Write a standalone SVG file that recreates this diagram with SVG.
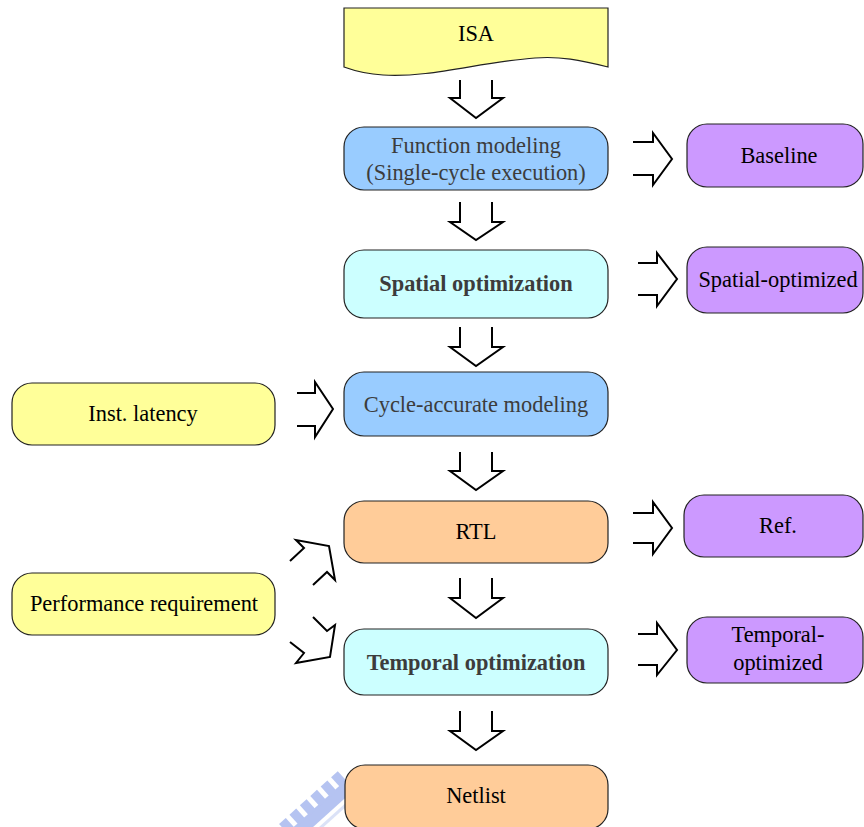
<svg xmlns="http://www.w3.org/2000/svg" width="864" height="827" viewBox="0 0 864 827">
  <style>
    .box { stroke: #222; stroke-width: 1.2; }
    .yellow { fill: #ffff99; }
    .blue { fill: #99ccff; }
    .cyan { fill: #ccffff; }
    .orange { fill: #ffcc99; }
    .purple { fill: #cc99ff; }
    .t { font-family: "Liberation Serif", "Times New Roman", serif; font-size: 22.4px; text-anchor: middle; fill: #000; }
    .grey { fill: #3c3c3c; }
    .bold { font-weight: bold; }
    .arrow { fill: #fff; stroke: #000; stroke-width: 2; stroke-linejoin: miter; }
    .ink { fill: #a3b5ee; }
  </style>

  <!-- faint logo stamp behind the last box -->
  <g id="stamp" opacity="0.8">
    <g transform="translate(314,806) rotate(-42)">
      <rect class="ink" x="-42" y="2" width="94" height="13"/>
      <rect class="ink" x="-38" y="-10" width="9" height="14"/>
      <rect class="ink" x="-24" y="-10" width="9" height="14"/>
      <rect class="ink" x="-10" y="-10" width="9" height="14"/>
      <rect class="ink" x="4" y="-10" width="9" height="14"/>
      <rect class="ink" x="18" y="-10" width="9" height="14"/>
      <rect class="ink" x="32" y="-10" width="9" height="14"/>
      <rect x="-42" y="19" width="94" height="3" fill="#d3dcf6"/>
    </g>
  </g>

  <g id="isa">
    <path class="box yellow" d="M344,8 H608 V67 C580,60 560,56 535,58 C480,62 430,78 383,75 C365,74 355,71 344,67 Z"/>
    <text class="t" x="476" y="41">ISA</text>
  </g>

  <g id="function-modeling">
    <rect class="box blue" x="344" y="127" width="264" height="63" rx="20"/>
    <text class="t grey" x="476" y="153">Function modeling</text>
    <text class="t grey" x="476" y="180">(Single-cycle execution)</text>
  </g>

  <g id="baseline">
    <rect class="box purple" x="687" y="124" width="176" height="63" rx="20"/>
    <text class="t" x="779" y="163">Baseline</text>
  </g>

  <g id="spatial-optimization">
    <rect class="box cyan" x="344" y="250" width="264" height="68" rx="20"/>
    <text class="t grey bold" x="476" y="291">Spatial optimization</text>
  </g>

  <g id="spatial-optimized">
    <rect class="box purple" x="687" y="247" width="176" height="66" rx="20"/>
    <text class="t" x="778" y="287">Spatial-optimized</text>
  </g>

  <g id="inst-latency">
    <rect class="box yellow" x="12" y="383" width="263" height="62" rx="20"/>
    <text class="t" x="143" y="421">Inst. latency</text>
  </g>

  <g id="cycle-accurate">
    <rect class="box blue" x="344" y="372" width="264" height="64" rx="20"/>
    <text class="t grey" x="476" y="412">Cycle-accurate modeling</text>
  </g>

  <g id="rtl">
    <rect class="box orange" x="344" y="501" width="264" height="62" rx="20"/>
    <text class="t" x="476" y="539">RTL</text>
  </g>

  <g id="ref">
    <rect class="box purple" x="684" y="495" width="179" height="62" rx="20"/>
    <text class="t" x="778" y="533">Ref.</text>
  </g>

  <g id="performance-requirement">
    <rect class="box yellow" x="12" y="573" width="263" height="62" rx="20"/>
    <text class="t" x="144" y="611">Performance requirement</text>
  </g>

  <g id="temporal-optimization">
    <rect class="box cyan" x="344" y="629" width="264" height="66" rx="20"/>
    <text class="t grey bold" x="476" y="670">Temporal optimization</text>
  </g>

  <g id="temporal-optimized">
    <rect class="box purple" x="687" y="617" width="176" height="66" rx="20"/>
    <text class="t" x="778" y="642">Temporal-</text>
    <text class="t" x="778" y="670">optimized</text>
  </g>

  <g id="netlist">
    <rect class="box orange" x="345" y="765" width="263" height="64" rx="20"/>
    <text class="t" x="476" y="803">Netlist</text>
  </g>

  <!-- open block arrows (the shaft end is left unclosed) -->
  <g id="connectors">
    <path class="arrow" d="M460,80 V98 H450 L476,118 L503,98 H492 V80"/>
    <path class="arrow" d="M460,202 V222 H450 L476,240 L503,222 H492 V202"/>
    <path class="arrow" d="M460,327 V347 H450 L476,366 L503,347 H492 V327"/>
    <path class="arrow" d="M460,452 V471 H450 L476,490 L503,471 H492 V452"/>
    <path class="arrow" d="M460,578 V598 H450 L476,618 L503,598 H492 V578"/>
    <path class="arrow" d="M460,711 V731 H450 L476,750 L503,731 H492 V711"/>

    <path class="arrow" d="M633,142 H653 V133 L672,159 L653,185 V175 H633"/>
    <path class="arrow" d="M638,263 H657 V253 L677,279 L657,306 V295 H638"/>
    <path class="arrow" d="M297,393 H315 V382 L333,409 L315,437 V426 H297"/>
    <path class="arrow" d="M633,513 H653 V502 L672,528 L653,554 V543 H633"/>
    <path class="arrow" d="M638,634 H657 V623 L677,650 L657,675 V665 H638"/>

    <path class="arrow" d="M290,561 L304,548 L296,540 L329,546 L335,580 L327,572 L313,585"/>
    <path class="arrow" d="M313,617 L327,631 L335,625 L330,657 L296,663 L304,653 L290,642"/>
  </g>
</svg>
